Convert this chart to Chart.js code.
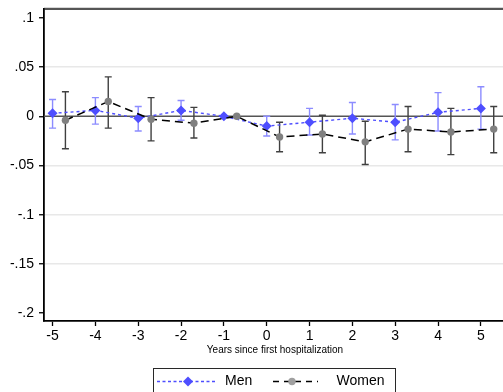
<!DOCTYPE html>
<html>
<head>
<meta charset="utf-8">
<script src="https://cdn.jsdelivr.net/npm/chart.js@4/dist/chart.umd.min.js"></script>
<style>
  html, body { margin: 0; padding: 0; background: #fff; overflow: hidden; }
  #wrap { width: 512px; height: 392px; }
</style>
</head>
<body>
<div id="wrap"><canvas id="c" width="512" height="392"></canvas></div>
<script>
// Event-study estimates by years since first hospitalization
const years = [-5, -4, -3, -2, -1, 0, 1, 2, 3, 4, 5];

const menEst = [0.003, 0.006, -0.002, 0.006, 0.000, -0.010, -0.006, -0.002, -0.006, 0.004, 0.008];
const menLo  = [-0.012, -0.008, -0.015, -0.004, null, -0.020, -0.019, -0.018, -0.024, -0.015, -0.013];
const menHi  = [0.017, 0.019, 0.010, 0.016, null, 0.000, 0.008, 0.014, 0.012, 0.024, 0.030];

const womenEst = [-0.004, 0.015, -0.003, -0.007, 0.000, -0.021, -0.018, -0.026, -0.013, -0.016, -0.013];
const womenLo  = [-0.033, -0.012, -0.025, -0.022, null, -0.036, -0.037, -0.049, -0.036, -0.039, -0.037];
const womenHi  = [0.025, 0.040, 0.019, 0.009, null, -0.006, 0.001, -0.005, 0.010, 0.008, 0.010];

// women's estimates are drawn slightly to the right of each year
const womenShift = 0.3;

const xTicks = [-5, -4, -3, -2, -1, 0, 1, 2, 3, 4, 5];
const yTicks = [-0.2, -0.15, -0.1, -0.05, 0, 0.05, 0.1];
const yGridValues = [-0.15, -0.1, -0.05, 0.05];

const xTitle = 'Years since first hospitalization';
const menLabel = 'Men';
const womenLabel = 'Women';

const FONT = '"Liberation Sans", Arial, sans-serif';
const MEN_COLOR = 'rgb(78,78,255)';
const MEN_CI = 'rgb(140,140,255)';
const WOMEN_MARK = 'rgb(128,128,128)';
const WOMEN_CI = 'rgb(64,64,64)';

function fmtTick(v) {
  if (Math.abs(v) < 1e-9) return '0';
  let s = String(Math.round(v * 100) / 100);
  return s.replace('0.', '.');
}

const menPoints = years.map((y, i) => ({ x: y, y: menEst[i] }));
const womenPoints = years.map((y, i) => ({ x: y + womenShift, y: womenEst[i] }));

const ciSets = [
  { xs: years.map(y => y + womenShift), lo: womenLo, hi: womenHi, color: WOMEN_CI },
  { xs: years, lo: menLo, hi: menHi, color: MEN_CI }
];

const backdrop = {
  id: 'backdrop',
  beforeDatasetsDraw(chart) {
    const { ctx, chartArea: a, scales: { x, y } } = chart;
    ctx.save();
    // zero reference line
    const y0 = y.getPixelForValue(0);
    ctx.strokeStyle = 'rgb(85,85,85)';
    ctx.lineWidth = 1.6;
    ctx.beginPath();
    ctx.moveTo(a.left, y0);
    ctx.lineTo(a.right, y0);
    ctx.stroke();
    // confidence intervals
    ciSets.forEach(s => {
      ctx.strokeStyle = s.color;
      ctx.lineWidth = 1.4;
      s.xs.forEach((xv, i) => {
        if (s.lo[i] == null) return;
        const px = x.getPixelForValue(xv);
        const pl = y.getPixelForValue(s.lo[i]);
        const ph = y.getPixelForValue(s.hi[i]);
        ctx.beginPath();
        ctx.moveTo(px, pl); ctx.lineTo(px, ph);
        ctx.moveTo(px - 3.5, pl); ctx.lineTo(px + 3.5, pl);
        ctx.moveTo(px - 3.5, ph); ctx.lineTo(px + 3.5, ph);
        ctx.stroke();
      });
    });
    ctx.restore();
  },
  afterDraw(chart) {
    const { ctx, chartArea: a } = chart;
    ctx.save();
    // top frame of the plot region
    ctx.strokeStyle = 'rgb(215,215,215)';
    ctx.lineWidth = 1;
    ctx.beginPath(); ctx.moveTo(a.left, a.top - 1.5); ctx.lineTo(a.right, a.top - 1.5); ctx.stroke();
    ctx.strokeStyle = 'rgb(30,30,30)';
    ctx.lineWidth = 1.5;
    ctx.beginPath(); ctx.moveTo(a.left, a.top); ctx.lineTo(a.right, a.top); ctx.stroke();

    // x axis title
    ctx.fillStyle = '#000';
    ctx.font = '10px ' + FONT;
    ctx.textAlign = 'center';
    ctx.textBaseline = 'middle';
    ctx.fillText(xTitle, 275, 350);

    // legend
    const bx = 153.5, by = 368.5, bw = 242, bh = 40;
    ctx.strokeStyle = 'rgb(40,40,40)';
    ctx.lineWidth = 1;
    ctx.strokeRect(bx, by, bw, bh);
    const ly = 381.5;
    // men sample
    ctx.strokeStyle = MEN_COLOR;
    ctx.lineWidth = 1.3;
    ctx.setLineDash([3, 2.5]);
    ctx.beginPath(); ctx.moveTo(157, ly); ctx.lineTo(216, ly); ctx.stroke();
    ctx.setLineDash([]);
    ctx.fillStyle = MEN_COLOR;
    ctx.beginPath();
    ctx.moveTo(188, ly - 5); ctx.lineTo(193, ly); ctx.lineTo(188, ly + 5); ctx.lineTo(183, ly);
    ctx.closePath(); ctx.fill();
    // women sample
    ctx.strokeStyle = '#000';
    ctx.setLineDash([6, 5]);
    ctx.beginPath(); ctx.moveTo(273, ly); ctx.lineTo(318, ly); ctx.stroke();
    ctx.setLineDash([]);
    ctx.fillStyle = 'rgb(160,160,160)';
    ctx.beginPath(); ctx.arc(292, ly, 3.7, 0, Math.PI * 2); ctx.fill();
    // legend text
    ctx.fillStyle = '#000';
    ctx.font = '14px ' + FONT;
    ctx.textAlign = 'left';
    ctx.fillText(menLabel, 225, ly);
    ctx.fillText(womenLabel, 336.5, ly);
    ctx.restore();
  }
};

new Chart(document.getElementById('c'), {
  type: 'scatter',
  data: {
    datasets: [
      {
        label: womenLabel,
        data: womenPoints,
        showLine: true,
        borderColor: '#000',
        borderWidth: 1.5,
        borderDash: [8, 5],
        pointStyle: 'circle',
        pointRadius: 3.7,
        pointBackgroundColor: WOMEN_MARK,
        pointBorderWidth: 0,
        tension: 0
      },
      {
        label: menLabel,
        data: menPoints,
        showLine: true,
        borderColor: MEN_COLOR,
        borderWidth: 1.4,
        borderDash: [3, 3],
        pointStyle: 'rectRot',
        pointRadius: 5,
        pointBackgroundColor: MEN_COLOR,
        pointBorderWidth: 0,
        tension: 0
      }
    ]
  },
  options: {
    responsive: false,
    animation: false,
    devicePixelRatio: 1,
    layout: { padding: { left: 0, top: 9, right: 1, bottom: 0 } },
    plugins: { legend: { display: false }, tooltip: { enabled: false } },
    scales: {
      x: {
        type: 'linear',
        min: -5.2,
        max: 5.61,
        afterBuildTicks: s => { s.ticks = xTicks.map(v => ({ value: v })); },
        afterFit: s => { s.height = 71; s.paddingLeft = 0; s.paddingRight = 0; },
        grid: { display: true, drawOnChartArea: false, drawTicks: true, tickLength: 5, tickColor: '#000', tickWidth: 1.3 },
        border: { display: true, color: '#000', width: 1.8 },
        ticks: { color: '#000', font: { family: FONT, size: 14 }, padding: 2, maxRotation: 0, autoSkip: false }
      },
      y: {
        type: 'linear',
        min: -0.208,
        max: 0.109,
        afterBuildTicks: s => { s.ticks = yTicks.map(v => ({ value: v })); },
        afterFit: s => { s.width = 44; s.paddingTop = 0; s.paddingBottom = 0; },
        grid: {
          display: true,
          drawTicks: true,
          tickLength: 5,
          tickColor: '#000',
          tickWidth: 1.3,
          lineWidth: 1.5,
          color: c => yGridValues.some(g => Math.abs(g - c.tick.value) < 1e-9) ? 'rgb(232,232,232)' : 'rgba(0,0,0,0)'
        },
        border: { display: true, color: '#000', width: 1.8 },
        ticks: { color: '#000', font: { family: FONT, size: 14 }, padding: 5, autoSkip: false, callback: v => fmtTick(v) }
      }
    }
  },
  plugins: [backdrop]
});
</script>
</body>
</html>
